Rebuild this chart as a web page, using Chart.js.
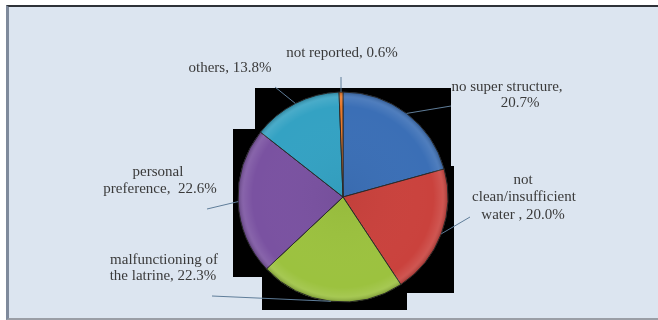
<!DOCTYPE html>
<html>
<head>
<meta charset="utf-8">
<script src="https://cdn.jsdelivr.net/npm/chart.js@4/dist/chart.umd.min.js"></script>
<style>
  html,body{margin:0;padding:0;background:#fff;}
  #wrap{position:relative;width:658px;height:320px;overflow:hidden;}
  #frame{position:absolute;left:6px;top:5px;width:649px;height:311px;background:#dce5f0;
    border-top:2px solid #2e3238;border-left:3px solid #7f8a9c;border-bottom:2px solid #9a9ea6;border-right:1px solid #e6eefa;}
  #pie{position:absolute;left:0;top:0;}
</style>
</head>
<body>
<div id="wrap">
  <div id="frame"></div>
  <canvas id="pie" width="658" height="320"></canvas>
</div>
<script>
// reasons for not using the latrine (% of households)
const categories = ['no super structure','not clean/insufficient water','malfunctioning of the latrine','personal preference','others','not reported'];
const shares = [20.7, 20.0, 22.3, 22.6, 13.8, 0.6];
const sliceColors = ['#3b6fb6','#ca423d','#9cc23f','#7a52a1','#34a2c3','#e8782a'];

// how each callout is broken into lines, {v} = value
const labelLines = [
  ['no super structure,', '{v}'],
  ['not', 'clean/insufficient', 'water , {v}'],
  ['malfunctioning of', 'the latrine, {v}'],
  ['personal', 'preference,  {v}'],
  ['others, {v}'],
  ['not reported, {v}']
];

// line centres and leader ends, offsets from the pie centre
const labelPos = [
  {lines:[[164,-110],[177,-94]], end:[108,-91]},
  {lines:[[180,-17],[181,0],[180,18]], end:[127,20]},
  {lines:[[-179,63],[-180,79]], end:[-131,99]},
  {lines:[[-185,-25],[-183,-8]], end:[-136,12]},
  {lines:[[-113,-129]], end:[-68,-110]},
  {lines:[[-1,-144]], end:[-2,-120]}
];

const fmtPct = v => v.toFixed(1) + '%';

// black blocks sitting behind the pie
const backdrop = {
  id:'backdrop',
  beforeDatasetsDraw(chart){
    const a = chart.getDatasetMeta(0).data[0]; if(!a) return;
    const cx=a.x, cy=a.y, ctx=chart.ctx;
    ctx.save(); ctx.fillStyle='#000';
    ctx.fillRect(cx-88, cy-109, 196, 140);
    ctx.fillRect(cx-110, cy-68, 80, 148);
    ctx.fillRect(cx-81, cy+0, 145, 113);
    ctx.fillRect(cx+30, cy-31, 81, 127);
    ctx.restore();
  }
};

// soft rim shading on the slices
const shade = {
  id:'shade',
  afterDatasetsDraw(chart){
    const a = chart.getDatasetMeta(0).data[0]; if(!a) return;
    const {x,y,outerRadius:r} = a, ctx=chart.ctx;
    ctx.save();
    ctx.beginPath(); ctx.arc(x,y,r,0,Math.PI*2); ctx.clip();
    const g = ctx.createRadialGradient(x,y,0,x,y,r);
    g.addColorStop(0,'rgba(0,0,0,0.04)');
    g.addColorStop(0.86,'rgba(255,255,255,0)');
    g.addColorStop(0.95,'rgba(255,255,255,0.10)');
    g.addColorStop(1,'rgba(0,0,0,0.22)');
    ctx.fillStyle=g; ctx.fillRect(x-r,y-r,2*r,2*r);
    ctx.restore();
  }
};

// leader lines and data labels
const callouts = {
  id:'callouts',
  afterDraw(chart){
    const meta = chart.getDatasetMeta(0), ctx = chart.ctx;
    ctx.save();
    meta.data.forEach((arc,i)=>{
      const cx=arc.x, cy=arc.y, r=arc.outerRadius;
      const mid=(arc.startAngle+arc.endAngle)/2;
      const p=labelPos[i];
      ctx.strokeStyle='#5f7d99'; ctx.lineWidth=1;
      ctx.beginPath();
      ctx.moveTo(cx+Math.cos(mid)*r, cy+Math.sin(mid)*r);
      ctx.lineTo(cx+p.end[0], cy+p.end[1]);
      ctx.stroke();
      ctx.fillStyle='#3a3a3a';
      ctx.font='15px "Liberation Serif", "Times New Roman", serif';
      ctx.textAlign='center'; ctx.textBaseline='middle';
      labelLines[i].forEach((t,k)=>{
        const txt=t.replace('{v}', fmtPct(shares[i]));
        ctx.fillText(txt, cx+p.lines[k][0], cy+p.lines[k][1]);
      });
    });
    ctx.restore();
  }
};

new Chart(document.getElementById('pie'), {
  type:'pie',
  data:{ labels:categories, datasets:[{ data:shares, backgroundColor:sliceColors, borderColor:'#2a2a2a', borderWidth:1 }] },
  options:{
    responsive:false, animation:false,
    radius:105,
    layout:{ padding:{ left:238, right:210, top:92, bottom:18 } },
    plugins:{ legend:{display:false}, tooltip:{enabled:false} }
  },
  plugins:[backdrop, shade, callouts]
});
</script>
</body>
</html>
